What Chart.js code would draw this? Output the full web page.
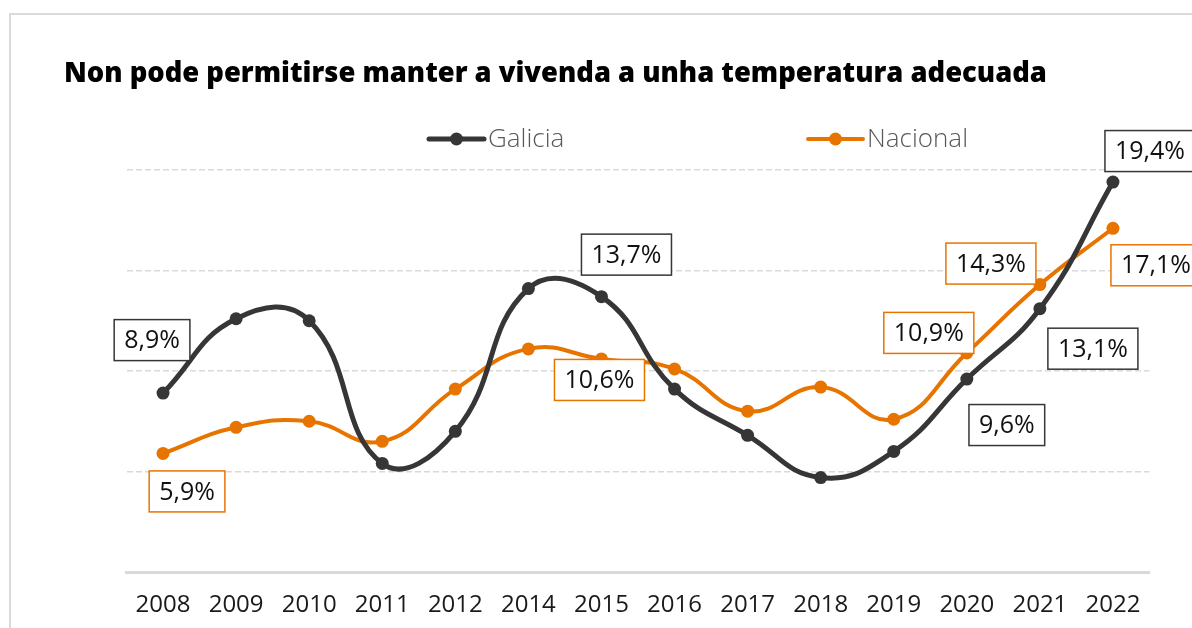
<!DOCTYPE html>
<html>
<head>
<meta charset="utf-8">
<script src="https://cdn.jsdelivr.net/npm/chart.js@4.4.1/dist/chart.umd.min.js"></script>
<style>
  html, body { margin: 0; padding: 0; background: #ffffff; overflow: hidden; }
  #wrap { position: relative; width: 1192px; height: 628px; }
  #frame { position: absolute; left: 9px; top: 13px; width: 1300px; height: 700px;
           border-left: 2px solid #d9d9d9; border-top: 2px solid #d9d9d9; }
  canvas { position: absolute; left: 0; top: 0; }
</style>
</head>
<body>
<div id="wrap">
  <div id="frame"></div>
  <canvas id="chart" width="1192" height="628"></canvas>
</div>
<script>
// Years on the horizontal axis
const years = ['2008', '2009', '2010', '2011', '2012', '2014', '2015', '2016',
               '2017', '2018', '2019', '2020', '2021', '2022'];

// Share of people who cannot keep their home adequately warm (%)
const galicia  = [8.9, 12.6, 12.5, 5.4, 7.0, 14.1, 13.7, 9.1, 6.8, 4.7, 6.0, 9.6, 13.1, 19.4];
const nacional = [5.9, 7.2, 7.5, 6.5, 9.1, 11.1, 10.6, 10.1, 8.0, 9.2, 7.6, 10.9, 14.3, 17.1];

// Which points carry a value label
const galiciaLabelled  = [0, 6, 11, 12, 13];
const nacionalLabelled = [0, 6, 11, 12, 13];

const titleText = 'Non pode permitirse manter a vivenda a unha temperatura adecuada';

const DARK = '#363636';
const ORANGE = '#E87400';
const GRID = '#d9d9d9';
const FONT = '"Open Sans", "Noto Sans", sans-serif';

// Box-centre offsets (px) of each value label relative to its point
const labelStyle = [
  { color: DARK, offsets: [[-11, -53], [25, -42], [40, 46], [53, 40], [37, -31]] },
  { color: ORANGE, offsets: [[24, 38], [-2, 21], [-38, -20], [-49, -21], [43, 37]] }
];

const fmt = v => v.toFixed(1).replace('.', ',') + '%';

const decorations = {
  id: 'decorations',
  afterDatasetsDraw(chart) {
    const ctx = chart.ctx;
    ctx.save();

    // Title, fitted to its line width
    ctx.fillStyle = '#000000';
    let size = 28;
    ctx.font = '800 ' + size + 'px "Open Sans", sans-serif';
    const tw = ctx.measureText(titleText).width;
    size = size * 983 / tw;
    ctx.font = '800 ' + size.toFixed(2) + 'px "Open Sans", sans-serif';
    ctx.textAlign = 'left';
    ctx.textBaseline = 'alphabetic';
    ctx.fillText(titleText, 64, 82);

    // Legend
    const legend = [
      { text: chart.data.datasets[0].label, color: DARK, x: 429, w: 5 },
      { text: chart.data.datasets[1].label, color: ORANGE, x: 808, w: 4 }
    ];
    legend.forEach(item => {
      const y = 139;
      ctx.strokeStyle = item.color;
      ctx.lineWidth = item.w;
      ctx.lineCap = 'round';
      ctx.beginPath();
      ctx.moveTo(item.x, y);
      ctx.lineTo(item.x + 55, y);
      ctx.stroke();
      ctx.fillStyle = item.color;
      ctx.beginPath();
      ctx.arc(item.x + 27.5, y, 6.5, 0, Math.PI * 2);
      ctx.fill();
      ctx.fillStyle = '#595959';
      ctx.font = '300 26px ' + FONT;
      ctx.textBaseline = 'middle';
      ctx.fillText(item.text, item.x + 59, y + 1);
    });

    // Value labels in boxes
    const labelled = [galiciaLabelled, nacionalLabelled];
    ctx.font = '25px ' + FONT;
    ctx.textAlign = 'center';
    ctx.textBaseline = 'middle';
    chart.data.datasets.forEach((ds, di) => {
      const meta = chart.getDatasetMeta(di);
      labelled[di].forEach((idx, k) => {
        const pt = meta.data[idx];
        const [dx, dy] = labelStyle[di].offsets[k];
        const text = fmt(ds.data[idx]);
        const w = ctx.measureText(text).width + 20;
        const h = 41;
        const cx = pt.x + dx, cy = pt.y + dy;
        ctx.fillStyle = '#ffffff';
        ctx.fillRect(cx - w / 2, cy - h / 2, w, h);
        ctx.strokeStyle = labelStyle[di].color;
        ctx.lineWidth = 1.5;
        ctx.strokeRect(cx - w / 2, cy - h / 2, w, h);
        ctx.fillStyle = '#111111';
        ctx.fillText(text, cx, cy + 1);
      });
    });
    ctx.restore();
  }
};

new Chart(document.getElementById('chart'), {
  type: 'line',
  data: {
    labels: years,
    datasets: [
      {
        label: 'Galicia',
        data: galicia,
        borderColor: DARK,
        backgroundColor: DARK,
        borderWidth: 5,
        pointRadius: 6.5,
        pointBorderWidth: 0,
        pointBackgroundColor: DARK,
        tension: 0.45,
        clip: false
      },
      {
        label: 'Nacional',
        data: nacional,
        borderColor: ORANGE,
        backgroundColor: ORANGE,
        borderWidth: 4,
        pointRadius: 6.5,
        pointBorderWidth: 0,
        pointBackgroundColor: ORANGE,
        tension: 0.45,
        clip: false
      }
    ]
  },
  options: {
    responsive: false,
    animation: false,
    layout: { padding: { left: 126.5, right: 42.5, top: 170, bottom: 0 } },
    plugins: {
      legend: { display: false },
      title: { display: false },
      tooltip: { enabled: false }
    },
    scales: {
      x: {
        offset: true,
        grid: { display: false, offset: true },
        border: { display: true, color: GRID, width: 3 },
        ticks: {
          font: { family: FONT, size: 24 },
          color: '#1a1a1a',
          padding: 11,
          maxRotation: 0,
          autoSkip: false
        },
        afterFit(scale) { scale.height = 56; }
      },
      y: {
        min: 0,
        max: 20,
        ticks: { display: false, stepSize: 5 },
        grid: {
          drawTicks: false,
          lineWidth: 1.5,
          color: c => (c.tick && c.tick.value === 0) ? 'rgba(0,0,0,0)' : GRID
        },
        border: { display: false, dash: [6, 3] },
        afterFit(scale) { scale.width = 0; }
      }
    }
  },
  plugins: [decorations]
});
</script>
</body>
</html>
